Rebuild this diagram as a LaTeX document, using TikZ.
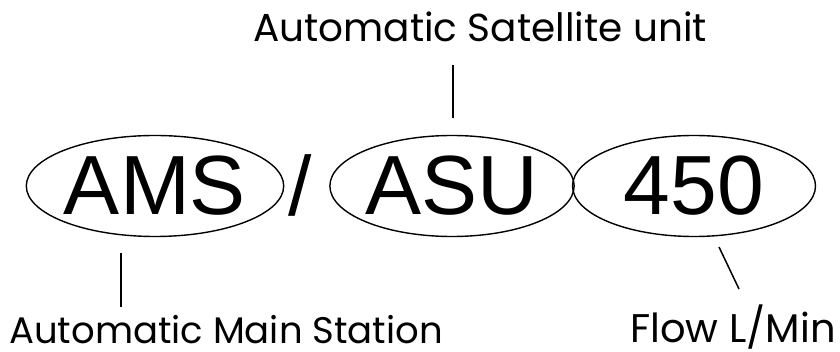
\documentclass[tikz,border=0pt]{standalone}
\usepackage{fontspec}
\setmainfont{Liberation Sans}
\newfontfamily\labelfont{Poppins}
\usetikzlibrary{shapes.geometric}
\begin{document}
\begin{tikzpicture}[x=1pt,y=-1pt,
  oval/.style={draw, line width=1.4pt, ellipse, inner sep=0pt, minimum width=243pt, minimum height=101pt, font=\fontsize{84}{84}\selectfont},
  lbl/.style={anchor=base, inner sep=0pt, font=\labelfont\fontsize{39}{39}\selectfont},
  lblb/.style={anchor=base, inner sep=0pt, font=\labelfont\fontsize{37}{37}\selectfont},
  lblc/.style={anchor=base, inner sep=0pt, font=\labelfont\fontsize{40}{40}\selectfont},
  leader/.style={line width=1.5pt}]
\useasboundingbox (0,0) rectangle (840,352);
\node[oval] (ams) at (155,186) {AMS};
\node[inner sep=0pt, font=\fontsize{84}{84}\selectfont] (slash) at (300,185) {/};
\node[oval] (asu) at (452,186) {ASU};
\node[oval] (num) at (694,186) {450};
\node[lbl] (top) at (480,42) {Automatic Satellite unit};
\node[lblb] (bl) at (226,343) {Automatic Main Station};
\node[lblc] (br) at (733,342) {Flow L/Min};
\coordinate (t1) at (453,65);
\coordinate (t2) at (453,118);
\coordinate (b1) at (121,253);
\coordinate (b2) at (121,307);
\coordinate (f1) at (719,247);
\coordinate (f2) at (739,289);
\draw[leader] (t1) -- (t2);
\draw[leader] (b1) -- (b2);
\draw[leader] (f1) -- (f2);
\end{tikzpicture}
\end{document}
